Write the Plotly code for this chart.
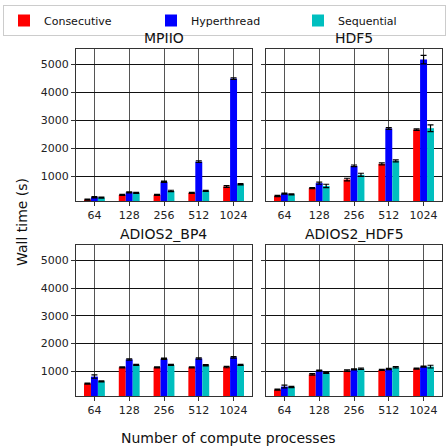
import plotly.graph_objects as go

categories = ["64", "128", "256", "512", "1024"]
series_names = ["Consecutive", "Hyperthread", "Sequential"]
colors = ["#ff0000", "#0000ff", "#00bfbf"]
panel_titles = ["MPIIO", "HDF5", "ADIOS2_BP4", "ADIOS2_HDF5"]

mpiio_consecutive = [160, 330, 330, 400, 630]
mpiio_hyperthread = [245, 420, 800, 1520, 4500]
mpiio_sequential = [230, 400, 470, 470, 710]
mpiio_err = [[20, 20, 20, 20, 30], [20, 20, 25, 30, 30], [20, 20, 25, 20, 25]]

hdf5_consecutive = [290, 570, 880, 1440, 2670]
hdf5_hyperthread = [375, 750, 1370, 2710, 5180]
hdf5_sequential = [350, 650, 1050, 1550, 2720]
hdf5_err = [[20, 20, 45, 35, 25], [20, 40, 30, 30, 150], [20, 60, 55, 35, 120]]

bp4_consecutive = [560, 1145, 1145, 1145, 1155]
bp4_hyperthread = [810, 1430, 1455, 1465, 1505]
bp4_sequential = [640, 1230, 1230, 1220, 1230]
bp4_err = [[20, 20, 20, 20, 25], [60, 25, 25, 25, 25], [20, 20, 20, 20, 20]]

ah5_consecutive = [340, 890, 1025, 1050, 1100]
ah5_hyperthread = [450, 1025, 1070, 1085, 1170]
ah5_sequential = [435, 950, 1095, 1145, 1170]
ah5_err = [[20, 25, 25, 20, 20], [50, 20, 20, 20, 20], [20, 25, 25, 25, 50]]

panels = [
    (mpiio_consecutive, mpiio_hyperthread, mpiio_sequential, mpiio_err),
    (hdf5_consecutive, hdf5_hyperthread, hdf5_sequential, hdf5_err),
    (bp4_consecutive, bp4_hyperthread, bp4_sequential, bp4_err),
    (ah5_consecutive, ah5_hyperthread, ah5_sequential, ah5_err),
]

W, H = 446, 447
xdoms = [(76 / W, 252 / W), (266 / W, 442 / W)]
ydoms = [(1 - 201 / H, 1 - 49 / H), (1 - 396 / H, 1 - 245 / H)]

fig = go.Figure()
FONT = "DejaVu Sans"

for i, (c, h, s, err) in enumerate(panels):
    row, col = divmod(i, 2)
    ax = "" if i == 0 else str(i + 1)
    for k, (vals, name) in enumerate(zip((c, h, s), series_names)):
        fig.add_trace(go.Bar(
            x=categories, y=vals, name=name,
            marker=dict(color=colors[k], line=dict(width=0)),
            error_y=dict(type="data", array=err[k], color="black", thickness=1.2, width=3),
            xaxis="x" + ax, yaxis="y" + ax,
            showlegend=(i == 0), legendgroup=name, offsetgroup=str(k),
        ))
    xa = dict(domain=xdoms[col], anchor="y" + ax, type="category",
              range=[-0.53, 4.53], showgrid=True, gridcolor="#555", gridwidth=1.2,
              showline=True, linecolor="#333", linewidth=1, mirror=True,
              ticks="outside", ticklen=4, tickcolor="#333",
              tickfont=dict(family=FONT, size=11, color="#222"))
    ya = dict(domain=ydoms[row], anchor="x" + ax, range=[110, 5560],
              tickvals=[1000, 2000, 3000, 4000, 5000],
              showticklabels=(col == 0),
              showgrid=True, gridcolor="#111", gridwidth=1.2,
              showline=True, linecolor="#333", linewidth=1, mirror=True,
              ticks="outside", ticklen=4, tickcolor="#333", zeroline=False,
              tickfont=dict(family=FONT, size=11, color="#222"))
    fig.layout["xaxis" + ax] = xa
    fig.layout["yaxis" + ax] = ya
    fig.add_annotation(text=panel_titles[i], xref="paper", yref="paper",
                       x=(xdoms[col][0] + xdoms[col][1]) / 2, y=ydoms[row][1],
                       xanchor="center", yanchor="bottom", yshift=1, showarrow=False,
                       font=dict(family=FONT, size=14, color="#111"))

fig.add_annotation(text="Wall time (s)", xref="paper", yref="paper", x=22 / W, y=1 - 222 / H,
                   textangle=-90, showarrow=False, xanchor="center", yanchor="middle",
                   font=dict(family=FONT, size=14, color="#111"))
fig.add_annotation(text="Number of compute processes", xref="paper", yref="paper",
                   x=228 / W, y=1 - 438 / H, showarrow=False, xanchor="center", yanchor="middle",
                   font=dict(family=FONT, size=14, color="#111"))

fig.update_layout(
    width=W, height=H, margin=dict(l=0, r=0, t=0, b=0),
    paper_bgcolor="white", plot_bgcolor="white",
    barmode="group", bargap=0.4, bargroupgap=0,
    legend=dict(orientation="h", x=5 / W, y=1 - 5 / H, xanchor="left", yanchor="top",
                bordercolor="#cccccc", borderwidth=1, bgcolor="white",
                entrywidth=102, entrywidthmode="pixels",
                font=dict(family=FONT, size=11, color="#111"), traceorder="normal"),
    font=dict(family=FONT),
)

fig.write_html("out.html")
